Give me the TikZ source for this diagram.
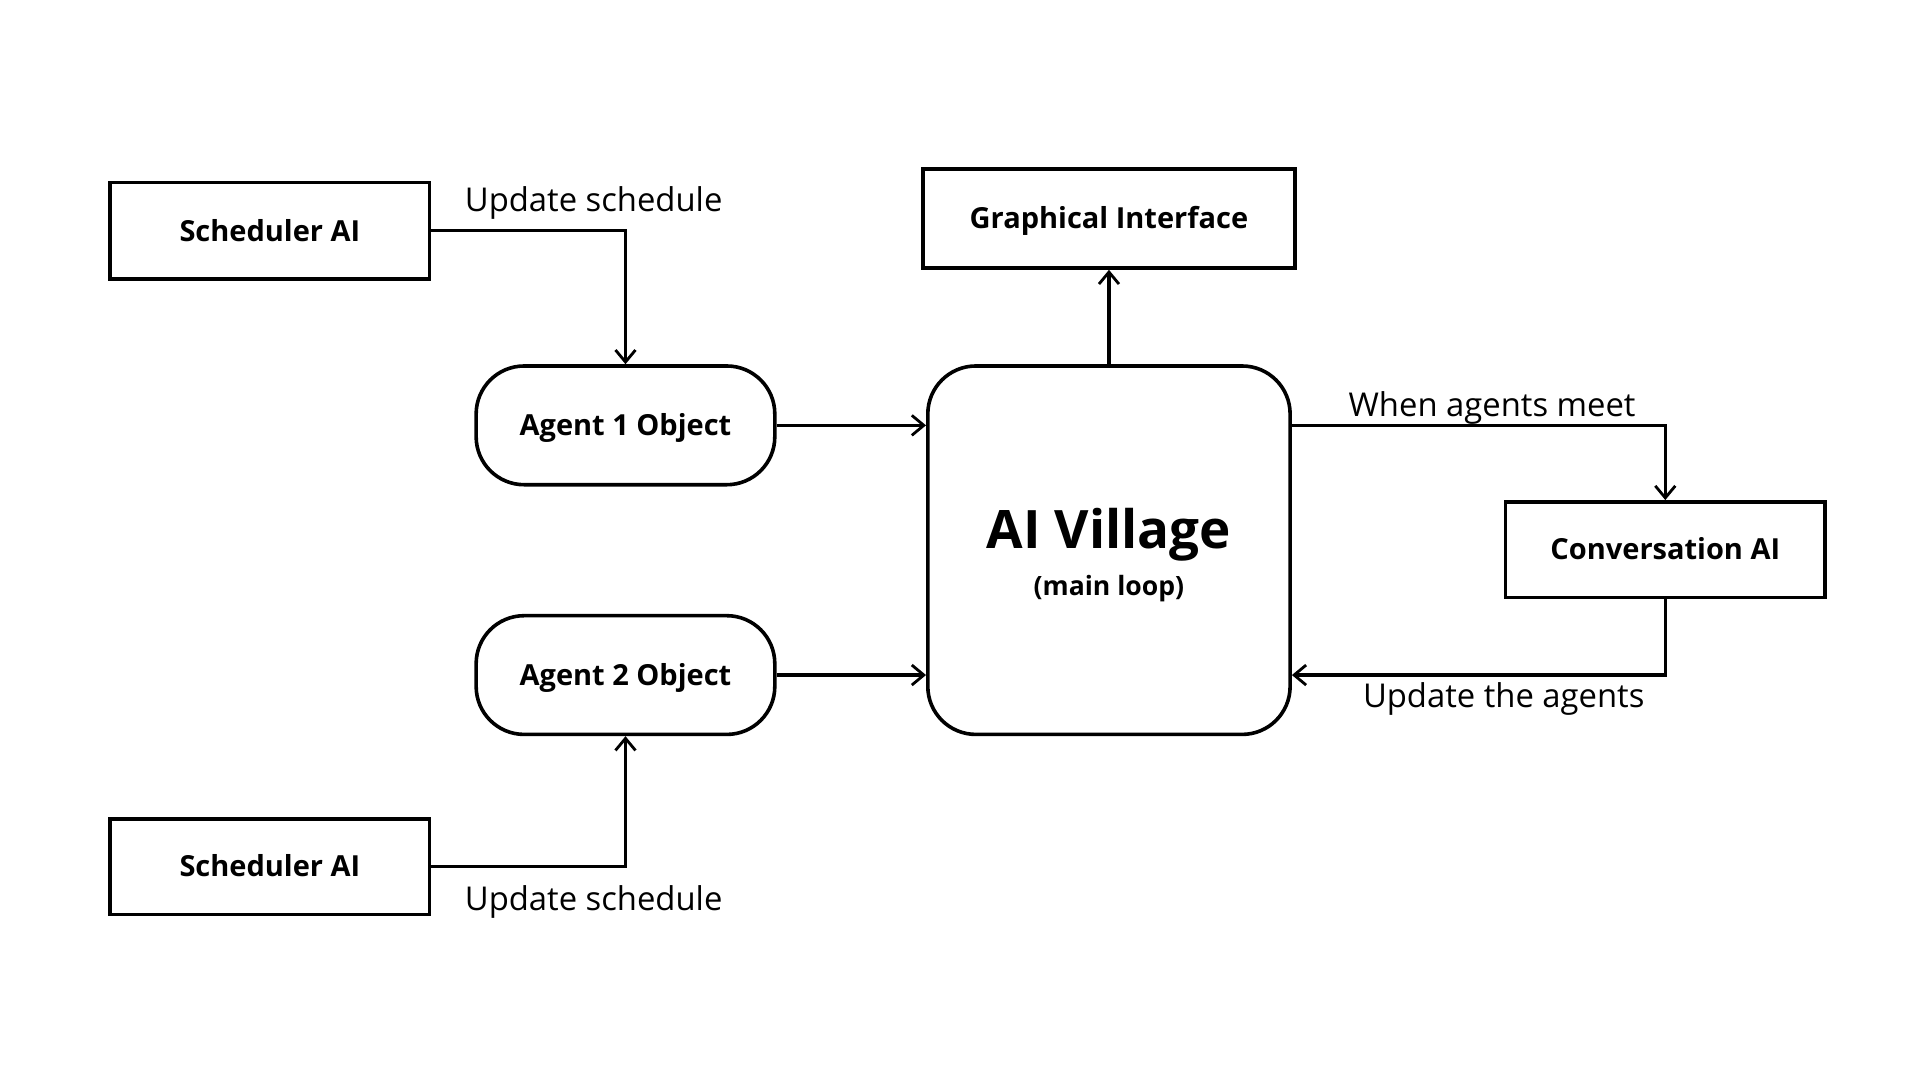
\documentclass[tikz,border=0pt]{standalone}
\usepackage{fontspec}
\setmainfont{Open Sans}
\usetikzlibrary{arrows.meta,positioning}
\tikzset{
  x=0.612pt, y=-0.612pt,
  box/.style={draw, line width=1.8pt, inner sep=0pt, align=center, text height=10.35pt, text depth=0pt, font=\bfseries\fontsize{14.5}{17}\selectfont},
  rbox/.style={box, rounded corners=24pt},
  conn/.style={line width=1.6pt, -{Straight Barb[length=6pt,width=10pt,line width=1.4pt]}},
  lbl/.style={font=\fontsize{16.4}{19}\selectfont, inner sep=0pt}
}
\begin{document}
\begin{tikzpicture}
\useasboundingbox[fill=white] (0,0) rectangle (1568.6,882.4);
\node[box, minimum width=261*0.612pt, minimum height=79*0.612pt] (sch1) at (220.5,188.5) {Scheduler AI};
\node[box, minimum width=261*0.612pt, minimum height=78*0.612pt] (sch2) at (220.5,708) {Scheduler AI};
\node[rbox, minimum width=244*0.612pt, minimum height=97*0.612pt] (ag1) at (511,347.5) {Agent 1 Object};
\node[rbox, minimum width=244*0.612pt, minimum height=97*0.612pt] (ag2) at (511,551.5) {Agent 2 Object};
\node[rbox, minimum width=296*0.612pt, minimum height=301*0.612pt] (vil) at (906,449.5) {};
\node[font=\bfseries\fontsize{26.5}{30}\selectfont, inner sep=0pt] (viltitle) at (906,437) {AI Village};
\node[font=\bfseries\fontsize{13.3}{15}\selectfont, inner sep=0pt] (vilsub) at (906,481) {(main loop)};
\node[box, minimum width=304*0.612pt, minimum height=81*0.612pt] (gui) at (906,178.5) {Graphical Interface};
\node[box, minimum width=261*0.612pt, minimum height=78*0.612pt] (conv) at (1360.5,449) {Conversation AI};

\draw[conn] (sch1.east) -| (ag1.north);
\draw[conn] (sch2.east) -| (ag2.south);
\draw[conn] (ag1.east) -- (ag1.east -| vil.west);
\draw[conn] (ag2.east) -- (ag2.east -| vil.west);
\draw[conn] (vil.north) -- (gui.south);
\draw[conn] (ag1.east -| vil.east) -| (conv.north);
\draw[conn] (conv.south) |- (ag2.east -| vil.east);

\node[lbl] (l1) at (485,166) {Update schedule};
\node[lbl] (l2) at (485,737) {Update schedule};
\node[lbl] (l3) at (1219,333) {When agents meet};
\node[lbl] (l4) at (1228.5,571) {Update the agents};
\end{tikzpicture}
\end{document}
